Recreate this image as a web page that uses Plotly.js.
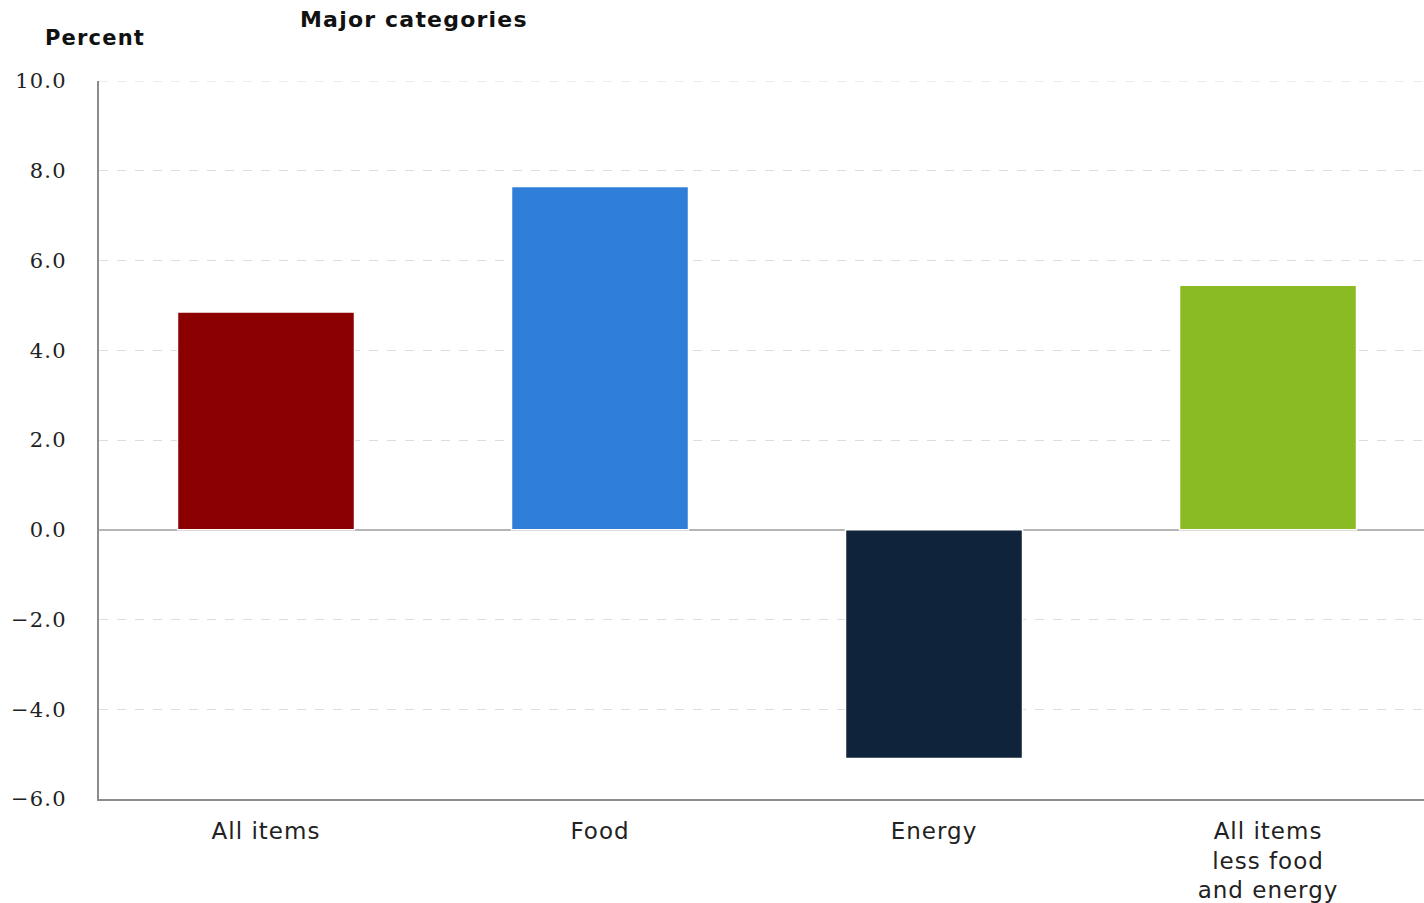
<!DOCTYPE html>
<html>
<head>
<meta charset="utf-8">
<script src="https://cdn.plot.ly/plotly-3.0.1.min.js"></script>
<style>
html,body{margin:0;padding:0;background:#fff;}
#chart{width:1424px;height:903px;}
.xtick text{letter-spacing:1px;}
.ytick text{letter-spacing:1.2px;}
.annotation-text{letter-spacing:1.2px;}
</style>
</head>
<body>
<div id="chart"></div>
<script>
const categories = ["All items", "Food", "Energy", "All items<br>less food<br>and energy"];
const values = [4.85, 7.65, -5.1, 5.45];
const barColors = ["#8b0000", "#2f7fd8", "#0f233a", "#8bbb22"];
const tickVals = [-6, -4, -2, 0, 2, 4, 6, 8, 10];
const tickText = ["\u22126.0", "\u22124.0", "\u22122.0", "0.0", "2.0", "4.0", "6.0", "8.0", "10.0"];

const trace = {
  type: "bar",
  x: categories,
  y: values,
  marker: { color: barColors, line: { color: "#ffffff", width: 1.5 } },
  hoverinfo: "x+y"
};

const yMax = Math.max(...tickVals);
const yMin = Math.min(...tickVals);

const layout = {
  width: 1424,
  height: 903,
  margin: { l: 99, r: 0, t: 81, b: 104 },
  paper_bgcolor: "#ffffff",
  plot_bgcolor: "#ffffff",
  bargap: 0.47,
  showlegend: false,
  font: { family: "DejaVu Sans, sans-serif", color: "#222" },
  xaxis: {
    type: "category",
    range: [-0.5, 3.467],
    showgrid: false,
    showline: true,
    linecolor: "#8c8c8c",
    linewidth: 2,
    ticks: "",
    tickfont: { family: "DejaVu Sans, sans-serif", size: 23, color: "#222" },
    ticklabelstandoff: 10,
    zeroline: false
  },
  yaxis: {
    range: [yMin, yMax],
    tickvals: tickVals,
    ticktext: tickText,
    showgrid: true,
    gridcolor: "#dcdcdc",
    griddash: "dash",
    gridwidth: 1,
    zeroline: true,
    zerolinecolor: "#b5b5b5",
    zerolinewidth: 2,
    showline: true,
    linecolor: "#8c8c8c",
    linewidth: 2,
    ticks: "",
    ticklabelstandoff: 26,
    tickfont: { family: "DejaVu Serif, serif", size: 21, color: "#222" }
  },
  shapes: [
    { type: "line", xref: "paper", yref: "y", x0: 0, x1: 1, y0: yMax, y1: yMax, layer: "below", line: { color: "#dcdcdc", width: 1, dash: "dash" } }
  ],
  annotations: [
    { text: "<b>Major categories</b>", xref: "paper", yref: "paper", x: (298 - 99) / 1325, y: 1, xanchor: "left", yanchor: "bottom", yshift: 47, showarrow: false, font: { family: "DejaVu Sans, sans-serif", size: 22, color: "#111" } },
    { text: "<b>Percent</b>", xref: "paper", yref: "paper", x: (43 - 99) / 1325, y: 1, xanchor: "left", yanchor: "bottom", yshift: 29, showarrow: false, font: { family: "DejaVu Sans, sans-serif", size: 21, color: "#111" } }
  ]
};

Plotly.newPlot("chart", [trace], layout, { displayModeBar: false, staticPlot: true });
</script>
</body>
</html>
